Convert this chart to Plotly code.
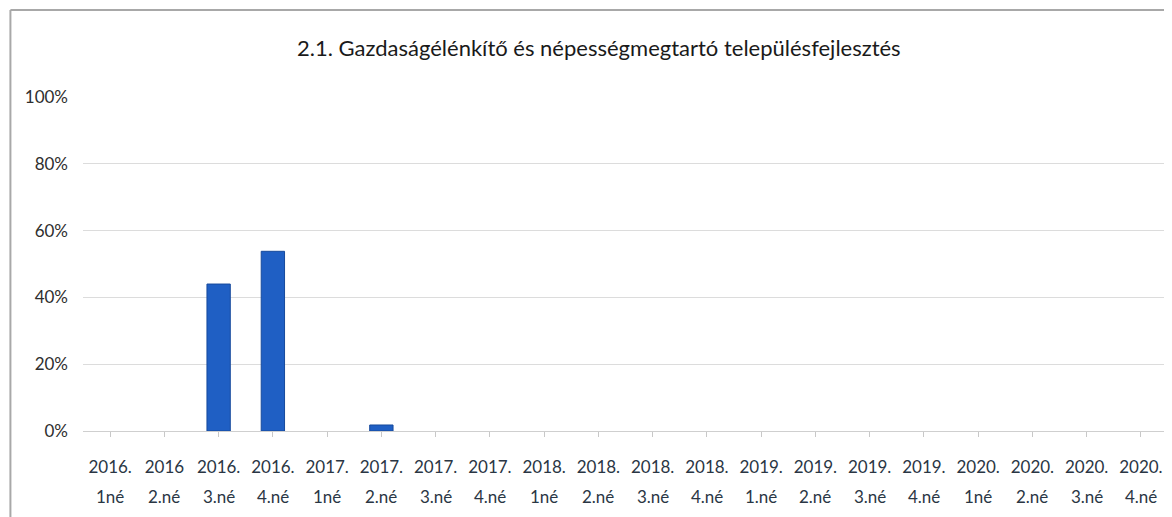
import plotly.graph_objects as go

title = "2.1. Gazdaságélénkítő és népességmegtartó településfejlesztés"
years = ["2016.", "2016", "2016.", "2016.", "2017.", "2017.", "2017.", "2017.",
         "2018.", "2018.", "2018.", "2018.", "2019.", "2019.", "2019.", "2019.",
         "2020.", "2020.", "2020.", "2020."]
quarters = ["1né", "2.né", "3.né", "4.né", "1né", "2.né", "3.né", "4.né",
            "1né", "2.né", "3.né", "4.né", "1.né", "2.né", "3.né", "4.né",
            "1né", "2.né", "3.né", "4.né"]
values = [0, 0, 0.44, 0.538, 0, 0.018, 0, 0,
          0, 0, 0, 0, 0, 0, 0, 0,
          0, 0, 0, 0]
y_ticks = [0, 0.2, 0.4, 0.6, 0.8, 1.0]

idx = list(range(len(values)))
font = "Lato, 'Open Sans', sans-serif"
txt = "#2a3644"
outline = [1 if v > 0 else 0 for v in values]

fig = go.Figure(go.Bar(
    x=idx, y=values, width=0.43,
    marker=dict(color="#1f5fc4", line=dict(color="#174a9c", width=outline)),
    hoverinfo="skip",
))

annotations = [
    dict(x=i, y=0, xref="x", yref="paper", text=q, showarrow=False,
         yanchor="middle", yshift=-65, font=dict(family=font, size=17, color=txt))
    for i, q in zip(idx, quarters)
]
annotations.append(dict(x=0.476, y=1, xref="paper", yref="paper", text=title,
                        showarrow=False, yanchor="middle", yshift=50,
                        font=dict(family=font, size=22, color="#1a1a1a")))

fig.update_layout(
    width=1164, height=509,
    margin=dict(l=75, r=4, t=89, b=86),
    paper_bgcolor="white", plot_bgcolor="white",
    showlegend=False,
    annotations=annotations,
    shapes=[
        dict(type="line", xref="paper", yref="paper", x0=-0.0669, x1=-0.0669,
             y0=1.2605, y1=-0.3, line=dict(color="#a8a8a8", width=2)),
        dict(type="line", xref="paper", yref="paper", x0=-0.0669, x1=1.02,
             y0=1.2605, y1=1.2605, line=dict(color="#a8a8a8", width=2)),
    ],
    xaxis=dict(
        tickmode="array", tickvals=idx, ticktext=years,
        range=[-0.5, len(values) - 0.5],
        showgrid=False, zeroline=False,
        showline=True, linecolor="#cfcfcf", linewidth=1,
        ticks="outside", tickson="boundaries", ticklen=5, tickcolor="#c8c8c8",
        ticklabelstandoff=16,
        tickfont=dict(family=font, size=17, color=txt),
    ),
    yaxis=dict(
        range=[0, 1.0], tickmode="array", tickvals=y_ticks,
        tickformat=".0%", showgrid=True, gridcolor="#dcdcdc", gridwidth=1,
        zeroline=False, showline=False, ticks="",
        ticklabelstandoff=14,
        tickfont=dict(family=font, size=17, color="#2e2e2e"),
    ),
)

fig.write_html("out.html")
